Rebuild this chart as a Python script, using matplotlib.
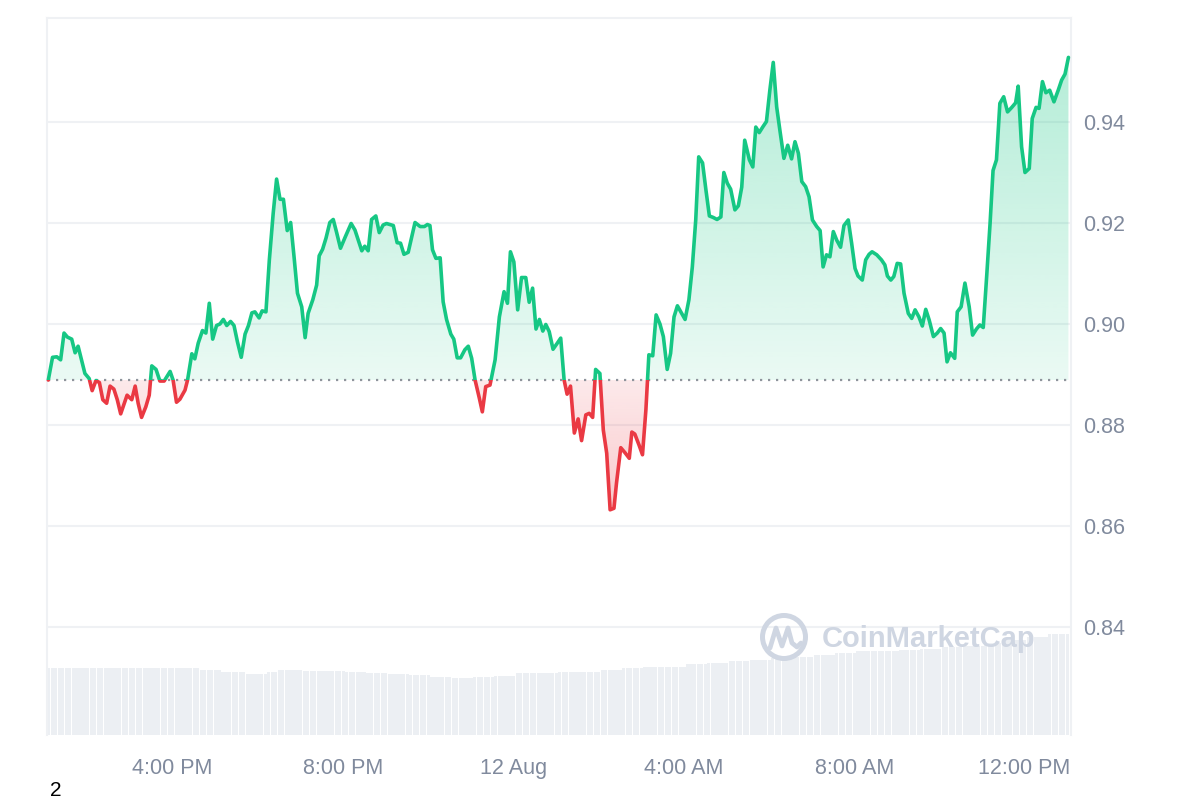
import numpy as np
import matplotlib.pyplot as plt
from matplotlib.colors import to_rgb
from matplotlib.patches import Rectangle, Circle
from matplotlib.path import Path

plt.rcParams['font.family'] = ['Liberation Sans', 'DejaVu Sans']

# price, time in hours since 11 Aug 00:00
times = [
    13.08, 13.18, 13.28, 13.37, 13.45, 13.53, 13.63, 13.71, 13.78, 13.86,
    13.94, 14.04, 14.11, 14.20, 14.28, 14.36, 14.45, 14.53, 14.62, 14.70,
    14.78, 14.86, 14.93, 15.04, 15.12, 15.19, 15.27, 15.37, 15.45, 15.51,
    15.61, 15.70, 15.80, 15.94, 16.01, 16.09, 16.17, 16.29, 16.35, 16.45,
    16.52, 16.60, 16.70, 16.78, 16.86, 16.94, 17.03, 17.11, 17.19, 17.27,
    17.36, 17.44, 17.52, 17.61, 17.70, 17.78, 17.86, 17.93, 18.03, 18.10,
    18.19, 18.27, 18.36, 18.44, 18.52, 18.60, 18.69, 18.77, 18.85, 18.93,
    19.03, 19.11, 19.18, 19.29, 19.38, 19.44, 19.52, 19.60, 19.69, 19.77,
    19.85, 19.94, 20.05, 20.19, 20.28, 20.44, 20.51, 20.59, 20.67, 20.77,
    20.85, 20.94, 21.02, 21.18, 21.27, 21.35, 21.43, 21.53, 21.69, 21.81,
    21.91, 21.98, 22.04, 22.10, 22.18, 22.28, 22.35, 22.43, 22.53, 22.60,
    22.68, 22.76, 22.86, 22.94, 23.02, 23.10, 23.20, 23.27, 23.35, 23.45,
    23.57, 23.67, 23.78, 23.86, 23.93, 24.01, 24.10, 24.19, 24.29, 24.37,
    24.45, 24.53, 24.61, 24.69, 24.76, 24.84, 24.93, 25.03, 25.11, 25.19,
    25.26, 25.34, 25.43, 25.52, 25.60, 25.70, 25.78, 25.86, 25.93, 26.03,
    26.11, 26.19, 26.27, 26.36, 26.42, 26.52, 26.62, 26.72, 26.78, 26.85,
    26.95, 27.03, 27.11, 27.18, 27.27, 27.35, 27.44, 27.52, 27.61, 27.69,
    27.77, 27.85, 27.95, 28.03, 28.12, 28.20, 28.28, 28.35, 28.44, 28.52,
    28.60, 28.69, 28.78, 28.87, 28.94, 29.02, 29.10, 29.20, 29.28, 29.36,
    29.43, 29.54, 29.62, 29.69, 29.77, 29.86, 29.94, 30.02, 30.10, 30.18,
    30.26, 30.35, 30.44, 30.53, 30.61, 30.69, 30.77, 30.86, 30.94, 31.02,
    31.12, 31.20, 31.27, 31.35, 31.43, 31.51, 31.59, 31.68, 31.76, 31.86,
    31.94, 32.02, 32.09, 32.19, 32.27, 32.35, 32.42, 32.53, 32.64, 32.72,
    32.78, 32.86, 32.93, 33.01, 33.09, 33.17, 33.27, 33.35, 33.43, 33.52,
    33.60, 33.68, 33.76, 33.86, 33.95, 34.03, 34.11, 34.18, 34.26, 34.36,
    34.42, 34.51, 34.60, 34.70, 34.78, 34.87, 34.95, 35.03, 35.11, 35.19,
    35.26, 35.34, 35.42, 35.51, 35.60, 35.70, 35.79, 35.85, 35.93, 36.01,
    36.11, 36.18, 36.27, 36.34, 36.42, 36.50, 36.59, 36.69, 36.79, 36.87,
    36.95, 37.03,
]
prices = [
    0.8889, 0.8934, 0.8935, 0.8929, 0.8982, 0.8974, 0.8970, 0.8943, 0.8956, 0.8929,
    0.8902, 0.8892, 0.8868, 0.8888, 0.8884, 0.8850, 0.8843, 0.8877, 0.8871, 0.8850,
    0.8822, 0.8842, 0.8859, 0.8850, 0.8877, 0.8843, 0.8815, 0.8836, 0.8859, 0.8917,
    0.8910, 0.8887, 0.8887, 0.8906, 0.8889, 0.8845, 0.8851, 0.8869, 0.8889, 0.8941,
    0.8931, 0.8962, 0.8987, 0.8982, 0.9041, 0.8970, 0.8997, 0.9000, 0.9009, 0.8997,
    0.9005, 0.8997, 0.8965, 0.8934, 0.8980, 0.8997, 0.9022, 0.9024, 0.9012, 0.9026,
    0.9024, 0.9127, 0.9219, 0.9287, 0.9247, 0.9247, 0.9185, 0.9201, 0.9133, 0.9061,
    0.9034, 0.8973, 0.9021, 0.9048, 0.9077, 0.9135, 0.9148, 0.9170, 0.9201, 0.9207,
    0.9181, 0.9150, 0.9172, 0.9199, 0.9186, 0.9145, 0.9154, 0.9145, 0.9207, 0.9214,
    0.9181, 0.9196, 0.9199, 0.9195, 0.9161, 0.9160, 0.9138, 0.9142, 0.9201, 0.9193,
    0.9193, 0.9197, 0.9195, 0.9147, 0.9130, 0.9131, 0.9044, 0.9009, 0.8980, 0.8970,
    0.8933, 0.8933, 0.8949, 0.8956, 0.8932, 0.8889, 0.8853, 0.8826, 0.8876, 0.8879,
    0.8929, 0.9014, 0.9064, 0.9041, 0.9143, 0.9123, 0.9028, 0.9092, 0.9092, 0.9043,
    0.9071, 0.8990, 0.9009, 0.8986, 0.8999, 0.8985, 0.8950, 0.8962, 0.8972, 0.8889,
    0.8861, 0.8877, 0.8784, 0.8812, 0.8769, 0.8820, 0.8823, 0.8815, 0.8910, 0.8902,
    0.8790, 0.8744, 0.8632, 0.8635, 0.8685, 0.8755, 0.8745, 0.8734, 0.8786, 0.8782,
    0.8760, 0.8741, 0.8830, 0.8939, 0.8937, 0.9018, 0.9000, 0.8975, 0.8910, 0.8942,
    0.9014, 0.9036, 0.9021, 0.9009, 0.9048, 0.9113, 0.9206, 0.9331, 0.9319, 0.9265,
    0.9214, 0.9211, 0.9207, 0.9212, 0.9300, 0.9279, 0.9267, 0.9226, 0.9234, 0.9271,
    0.9364, 0.9325, 0.9311, 0.9390, 0.9379, 0.9391, 0.9401, 0.9463, 0.9518, 0.9430,
    0.9381, 0.9328, 0.9354, 0.9327, 0.9361, 0.9338, 0.9282, 0.9272, 0.9252, 0.9206,
    0.9193, 0.9185, 0.9113, 0.9137, 0.9133, 0.9183, 0.9166, 0.9152, 0.9195, 0.9206,
    0.9160, 0.9110, 0.9095, 0.9087, 0.9127, 0.9138, 0.9143, 0.9137, 0.9127, 0.9117,
    0.9095, 0.9087, 0.9094, 0.9120, 0.9119, 0.9061, 0.9021, 0.9011, 0.9028, 0.9014,
    0.8996, 0.9029, 0.9008, 0.8975, 0.8982, 0.8991, 0.8982, 0.8925, 0.8943, 0.8932,
    0.9024, 0.9034, 0.9081, 0.9034, 0.8978, 0.8990, 0.8998, 0.8993, 0.9094, 0.9199,
    0.9304, 0.9325, 0.9437, 0.9450, 0.9420, 0.9429, 0.9438, 0.9471, 0.9351, 0.9300,
    0.9308, 0.9407, 0.9429, 0.9427, 0.9480, 0.9458, 0.9463, 0.9440, 0.9463, 0.9483,
    0.9495, 0.9528,
]

# 5 minute volume bars starting 13:03, one row per hour
vol_start = 13.05
vol_step = 1 / 12
volumes = [
    67, 67, 67, 67, 67, 67, 67, 67, 67, 67, 67, 67,
    67, 67, 67, 67, 67, 67, 67, 67, 67, 67, 67, 67,
    67, 67, 67, 67, 67, 67, 67, 67, 67, 67, 67, 67,
    67, 67, 67, 67, 67, 67, 67, 65, 65, 65, 65, 65,
    65, 63, 63, 63, 63, 63, 63, 63, 61, 61, 61, 61,
    61, 61, 63, 63, 63, 65, 65, 65, 65, 65, 65, 65,
    64, 64, 64, 64, 64, 64, 64, 64, 64, 64, 64, 64,
    63, 63, 63, 63, 63, 63, 62, 62, 62, 62, 62, 62,
    61, 61, 61, 61, 61, 61, 60, 60, 60, 60, 60, 60,
    58, 58, 58, 58, 58, 58, 57, 57, 57, 57, 57, 57,
    58, 58, 58, 58, 58, 58, 59, 59, 59, 59, 59, 59,
    62, 62, 62, 62, 62, 62, 62, 62, 62, 62, 62, 62,
    63, 63, 63, 63, 63, 63, 63, 63, 63, 63, 63, 63,
    65, 65, 65, 65, 65, 65, 67, 67, 67, 67, 67, 67,
    68, 68, 68, 68, 68, 68, 68, 68, 68, 68, 68, 68,
    71, 71, 71, 71, 71, 71, 72, 72, 72, 72, 72, 72,
    74, 74, 74, 74, 74, 74, 75, 75, 75, 75, 75, 75,
    77, 77, 77, 77, 77, 77, 78, 78, 78, 78, 78, 78,
    80, 80, 80, 80, 80, 80, 82, 82, 82, 82, 82, 82,
    84, 84, 84, 84, 84, 84, 84, 84, 84, 84, 84, 84,
    85, 85, 85, 85, 85, 85, 86, 86, 86, 86, 86, 86,
    88, 88, 88, 88, 88, 88, 89, 89, 89, 89, 89, 89,
    92, 92, 92, 92, 92, 92, 95, 95, 95, 95, 95, 95,
    98, 98, 98, 98, 98, 98, 101, 101, 101, 101, 101, 101,
]

tick_hours = [16, 20, 24, 28, 32, 36]
tick_labels = ['4:00 PM', '8:00 PM', '12 Aug', '4:00 AM', '8:00 AM', '12:00 PM']
price_ticks = [0.84, 0.86, 0.88, 0.90, 0.92, 0.94]

GREEN = '#16c784'
RED = '#ea3943'
LABEL = '#808a9d'
GRID = '#eff1f4'
WATERMARK = '#cfd6e2'

t = np.array(times)
p = np.array(prices)
base = p[0]
x_lo, x_hi = vol_start, vol_start + 24.04
y_lo, y_hi = 0.8186, 0.9606

fig = plt.figure(figsize=(12, 8), dpi=100)
pos = [47 / 1200, 65 / 800, 1024 / 1200, 717 / 800]

# volume in the background
vol_ax = fig.add_axes(pos)
vol_x = vol_start + np.arange(len(volumes)) * vol_step
vol_ax.bar(vol_x, volumes, width=vol_step * 0.9, align='edge', color='#eceff3', linewidth=0)
vol_ax.set_xlim(x_lo, x_hi)
vol_ax.set_ylim(0, 717)
vol_ax.axis('off')

ax = fig.add_axes(pos)
ax.set_facecolor('none')


def gradient_fill(mask, color, a_near, a_far, far):
    coll = ax.fill_between(t, p, base, where=mask, interpolate=True,
                           facecolor='none', edgecolor='none')
    path = Path.make_compound_path(*coll.get_paths())
    coll.remove()
    rgba = np.zeros((256, 1, 4))
    rgba[..., :3] = to_rgb(color)
    if far > base:
        rgba[:, 0, 3] = np.linspace(a_far, a_near, 256)
    else:
        rgba[:, 0, 3] = np.linspace(a_near, a_far, 256)
    lo, hi = sorted([base, far])
    im = ax.imshow(rgba, extent=[t[0], t[-1], lo, hi], origin='upper',
                   aspect='auto', zorder=2, interpolation='bilinear')
    im.set_clip_path(path, ax.transData)


gradient_fill(p >= base, GREEN, 0.09, 0.32, p.max())
gradient_fill(p <= base, RED, 0.11, 0.27, p.min())

for color, lo, hi in [(GREEN, base, 2.0), (RED, 0.0, base)]:
    ln, = ax.plot(t, p, color=color, lw=2.6, solid_joinstyle='round',
                  solid_capstyle='round', zorder=4)
    ln.set_clip_path(Rectangle((0, lo), 60, hi - lo, transform=ax.transData))

ax.hlines(base, t[0], t[-1], colors='#8f949c', linestyles=(0, (1, 2.6)), lw=1.6, zorder=3)

ax.set_xlim(x_lo, x_hi)
ax.set_ylim(y_lo, y_hi)
ax.set_yticks(price_ticks)
ax.set_yticklabels([f'{v:.2f}' for v in price_ticks])
ax.yaxis.tick_right()
ax.set_xticks(tick_hours)
ax.set_xticklabels(tick_labels)
ax.tick_params(axis='both', length=0, labelsize=15.5, labelcolor=LABEL)
ax.tick_params(axis='x', pad=16.5)
ax.tick_params(axis='y', pad=8.5)
ax.yaxis.grid(True, color=GRID, lw=1.5)
ax.set_axisbelow(True)
for side in ['left', 'right', 'top']:
    ax.spines[side].set_color(GRID)
    ax.spines[side].set_linewidth(1.5)
ax.spines['bottom'].set_visible(False)

# watermark
over = fig.add_axes([0, 0, 1, 1])
over.set_xlim(0, 1200)
over.set_ylim(800, 0)
over.axis('off')
over.add_patch(Circle((784, 637), 21.5, fill=False, lw=3.6, ec=WATERMARK))
over.plot([770, 776, 782, 788, 792, 797, 801],
          [648, 628, 646, 628, 643, 647, 643],
          color=WATERMARK, lw=3.4, solid_joinstyle='round', solid_capstyle='round')
over.text(822, 639, 'CoinMarketCap', fontsize=21, fontweight='bold',
          color=WATERMARK, va='center', ha='left')

fig.text(50 / 1200, 1 - 796 / 800, '2', fontsize=15, color='black', ha='left', va='baseline')

fig.savefig('out.png', dpi=100)
